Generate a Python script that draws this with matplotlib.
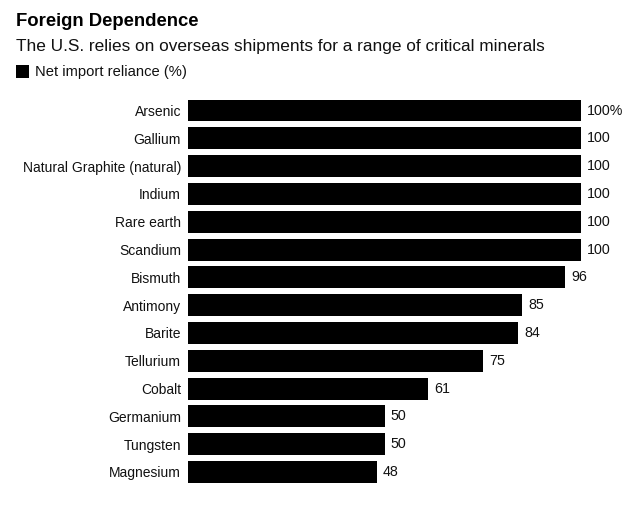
import matplotlib
matplotlib.use("Agg")
import matplotlib.pyplot as plt
from matplotlib.patches import Rectangle

plt.rcParams['font.family'] = ['Liberation Sans', 'DejaVu Sans']

minerals = ["Arsenic", "Gallium", "Natural Graphite (natural)", "Indium", "Rare earth",
            "Scandium", "Bismuth", "Antimony", "Barite", "Tellurium", "Cobalt",
            "Germanium", "Tungsten", "Magnesium"]
values = [100, 100, 100, 100, 100, 100, 96, 85, 84, 75, 61, 50, 50, 48]

W, H = 640, 516
fig = plt.figure(figsize=(W/100, H/100), dpi=100)
ax = fig.add_axes([188/W, 1-485.9/H, 393/W, (485.9-96.6)/H])

ypos = list(range(len(minerals)))
ax.barh(ypos, values, height=0.79, color='black')
ax.set_xlim(0, 100)
ax.set_ylim(len(minerals)-0.5, -0.5)
ax.set_yticks(ypos)
ax.set_yticklabels(minerals, fontsize=10, color='#111111')
ax.tick_params(axis='y', length=0, pad=5)
ax.set_xticks([])
for s in ax.spines.values():
    s.set_visible(False)

for i, v in enumerate(values):
    lab = f"{v}%" if i == 0 else f"{v}"
    ax.text(v + 1.6, i, lab, va='center', ha='left', fontsize=10.3, color='#111111', clip_on=False)

fig.text(16/W, 1-22/H, "Foreign Dependence", fontsize=13.3, fontweight='bold', va='center', ha='left')
fig.text(16/W, 1-46/H, "The U.S. relies on overseas shipments for a range of critical minerals",
         fontsize=12.45, va='center', ha='left', color='#111111')
fig.patches.append(Rectangle((16/W, 1-78/H), 13/W, 13/H, transform=fig.transFigure,
                             facecolor='black', edgecolor='none'))
fig.text(35/W, 1-72/H, "Net import reliance (%)", fontsize=10.6, va='center', ha='left', color='#111111')

fig.savefig("out.png", dpi=100)
